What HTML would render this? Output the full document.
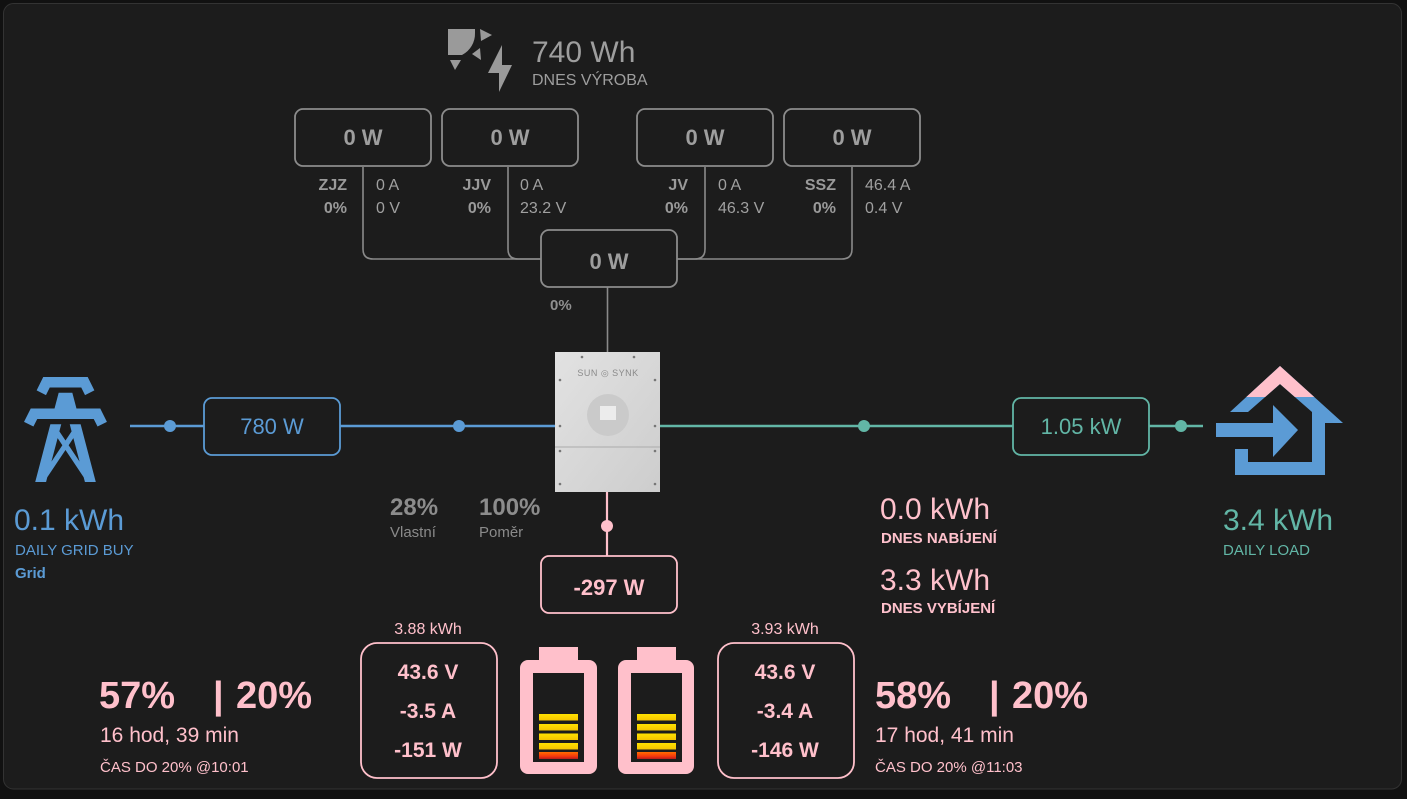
<!DOCTYPE html>
<html><head><meta charset="utf-8"><style>
html,body{margin:0;padding:0;background:#111;width:1407px;height:799px;overflow:hidden}
svg{display:block}
text{font-family:"Liberation Sans",Arial,sans-serif}
</style></head><body>
<svg width="1407" height="799" viewBox="0 0 1407 799" xmlns="http://www.w3.org/2000/svg">
<defs>
<linearGradient id="inv" x1="0" y1="0" x2="1" y2="1"><stop offset="0" stop-color="#e2e2e2"/><stop offset="1" stop-color="#cdcdcd"/></linearGradient>
<linearGradient id="red" x1="0" y1="0" x2="0" y2="1"><stop offset="0" stop-color="#ff6d00"/><stop offset="0.6" stop-color="#f4380c"/><stop offset="1" stop-color="#b71c1c"/></linearGradient>
<linearGradient id="yel" x1="0" y1="0" x2="0" y2="1"><stop offset="0" stop-color="#ffe100"/><stop offset="1" stop-color="#f5c400"/></linearGradient>
<clipPath id="topclip"><rect x="1200" y="355" width="160" height="42"/></clipPath>
</defs>
<rect x="0" y="0" width="1407" height="799" fill="#111"/>
<rect x="3.5" y="3.5" width="1398" height="785.5" rx="10" fill="#1c1c1c" stroke="#333" stroke-width="1"/>

<!-- Solar header icon -->
<g fill="#9a9a9a">
<path d="M448,29 H475 V33 A24 24 0 0 1 462,55 H448 Z"/>
<polygon points="480,29 492,35 481,41"/>
<polygon points="472,54 480,48 481,60"/>
<polygon points="450,60 461,60 455,70"/>
<polygon points="502,45 488,73 499,73 499,92 512,65 502,65"/>
</g>
<text x="532" y="62" font-size="30" fill="#9e9e9e">740 Wh</text>
<text x="532" y="85" font-size="16" fill="#9e9e9e">DNES VÝROBA</text>

<!-- PV connectors -->
<g fill="none" stroke="#8a8a8a" stroke-width="1.6">
<path d="M363,167 V249 Q363,259 373,259 H541"/>
<path d="M508,167 V249 Q508,259 518,259 H541"/>
<path d="M705,167 V249 Q705,259 695,259 H677"/>
<path d="M852,167 V249 Q852,259 842,259 H677"/>
<path d="M607.5,287 V352"/>
</g>
<!-- PV boxes -->
<g fill="#1c1c1c" stroke="#8c8c8c" stroke-width="1.8">
<rect x="295" y="109" width="136" height="57" rx="8"/>
<rect x="442" y="109" width="136" height="57" rx="8"/>
<rect x="637" y="109" width="136" height="57" rx="8"/>
<rect x="784" y="109" width="136" height="57" rx="8"/>
<rect x="541" y="230" width="136" height="57" rx="8"/>
</g>
<g font-size="22" font-weight="bold" fill="#9e9e9e" text-anchor="middle">
<text x="363" y="145">0 W</text>
<text x="510" y="145">0 W</text>
<text x="705" y="145">0 W</text>
<text x="852" y="145">0 W</text>
<text x="609" y="269">0 W</text>
</g>
<g font-size="16" font-weight="bold" fill="#9a9a9a" text-anchor="end">
<text x="347" y="190">ZJZ</text><text x="347" y="213">0%</text>
<text x="491" y="190">JJV</text><text x="491" y="213">0%</text>
<text x="688" y="190">JV</text><text x="688" y="213">0%</text>
<text x="836" y="190">SSZ</text><text x="836" y="213">0%</text>
</g>
<g font-size="16" fill="#a0a0a0">
<text x="376" y="190">0 A</text><text x="376" y="213">0 V</text>
<text x="520" y="190">0 A</text><text x="520" y="213">23.2 V</text>
<text x="718" y="190">0 A</text><text x="718" y="213">46.3 V</text>
<text x="865" y="190">46.4 A</text><text x="865" y="213">0.4 V</text>
</g>
<text x="550" y="310" font-size="15" font-weight="bold" fill="#8f8f8f">0%</text>

<!-- Grid -->
<line x1="130" y1="426" x2="556" y2="426" stroke="#5b9bd5" stroke-width="2.5"/>
<circle cx="170" cy="426" r="6" fill="#5b9bd5"/>
<circle cx="459" cy="426" r="6" fill="#5b9bd5"/>
<rect x="204" y="398" width="136" height="57" rx="8" fill="#1c1c1c" stroke="#5b9bd5" stroke-width="1.8"/>
<text x="272" y="434" font-size="22" fill="#5b9bd5" text-anchor="middle">780 W</text>
<g transform="translate(2.5,366.5) scale(5.25)" fill="#5b9bd5">
<path d="M8.28,5.45L6.5,4.55L7.76,2H16.23L17.5,4.55L15.72,5.45L15,4H9L8.28,5.45M18.62,8H14.09L13.3,5H10.7L9.91,8H5.38L4.1,10.55L5.89,11.44L6.62,10H17.38L18.1,11.44L19.89,10.55L18.62,8M17.77,22H15.7L15.46,21.1L12,15.9L8.53,21.1L8.3,22H6.23L9.12,11H11.19L10.83,12.35L12,14.1L13.16,12.35L12.81,11H14.88L17.77,22M11.4,15L10.5,13.65L9.32,18.13L11.4,15M14.68,18.13L13.5,13.65L12.6,15L14.68,18.13Z"/>
</g>
<text x="14" y="530" font-size="30" fill="#5b9bd5">0.1 kWh</text>
<text x="15" y="555" font-size="15" fill="#5b9bd5">DAILY GRID BUY</text>
<text x="15" y="578" font-size="15" font-weight="bold" fill="#5b9bd5">Grid</text>

<!-- Self use -->
<text x="390" y="515" font-size="24" font-weight="bold" fill="#8c8c8c">28%</text>
<text x="390" y="537" font-size="15" fill="#8a8a8a">Vlastní</text>
<text x="479" y="515" font-size="24" font-weight="bold" fill="#8c8c8c">100%</text>
<text x="479" y="537" font-size="15" fill="#8a8a8a">Poměr</text>

<!-- Load -->
<line x1="658" y1="426" x2="1203" y2="426" stroke="#62b6a6" stroke-width="2.5"/>
<circle cx="864" cy="426" r="6" fill="#62b6a6"/>
<circle cx="1181" cy="426" r="6" fill="#62b6a6"/>
<rect x="1013" y="398" width="136" height="57" rx="8" fill="#1c1c1c" stroke="#62b6a6" stroke-width="1.8"/>
<text x="1081" y="434" font-size="22" fill="#62b6a6" text-anchor="middle">1.05 kW</text>
<g fill="#5b9bd5">
<polygon points="1230,412 1280,366 1343,423 1325,423 1325,475 1235,475 1235,449 1248,449 1248,462 1312,462 1312,412 1280,384 1248,412"/>
<polygon points="1216,423 1273,423 1273,405 1298,430 1273,457 1273,437 1216,437"/>
</g>
<g fill="#ffc0cb" clip-path="url(#topclip)">
<polygon points="1230,412 1280,366 1343,423 1325,423 1325,475 1235,475 1235,449 1248,449 1248,462 1312,462 1312,412 1280,384 1248,412"/>
</g>
<text x="1223" y="530" font-size="30" fill="#62b6a6">3.4 kWh</text>
<text x="1223" y="555" font-size="15" fill="#62b6a6">DAILY LOAD</text>

<!-- Battery daily -->
<text x="880" y="519" font-size="30" fill="#ffc1cc">0.0 kWh</text>
<text x="881" y="543" font-size="15" font-weight="bold" fill="#ffc1cc">DNES NABÍJENÍ</text>
<text x="880" y="590" font-size="30" fill="#ffc1cc">3.3 kWh</text>
<text x="881" y="613" font-size="15" font-weight="bold" fill="#ffc1cc">DNES VYBÍJENÍ</text>

<!-- Inverter -->
<rect x="555" y="352" width="105" height="140" fill="url(#inv)"/>
<line x1="555" y1="447" x2="660" y2="447" stroke="#b4b4b4" stroke-width="1.2"/>
<text x="608" y="376" font-size="9" fill="#8a8a8a" text-anchor="middle" letter-spacing="0.5">SUN ◎ SYNK</text>
<circle cx="608" cy="415" r="21" fill="#cacaca"/>
<rect x="600" y="406" width="16" height="14" fill="#ececec"/>
<g fill="#777">
<circle cx="582" cy="357" r="1.3"/><circle cx="634" cy="357" r="1.3"/>
<circle cx="560" cy="380" r="1.3"/><circle cx="655" cy="380" r="1.3"/>
<circle cx="560" cy="426" r="1.3"/><circle cx="655" cy="426" r="1.3"/>
<circle cx="560" cy="451" r="1.3"/><circle cx="655" cy="451" r="1.3"/>
<circle cx="560" cy="484" r="1.3"/><circle cx="655" cy="484" r="1.3"/>
</g>

<!-- Battery connector -->
<line x1="607" y1="492" x2="607" y2="556" stroke="#ffc0cb" stroke-width="2.2"/>
<circle cx="607" cy="526" r="6" fill="#ffc0cb"/>
<rect x="541" y="556" width="136" height="57" rx="8" fill="#1c1c1c" stroke="#ffc0cb" stroke-width="1.8"/>
<text x="609" y="595" font-size="22" font-weight="bold" fill="#ffc0cb" text-anchor="middle">-297 W</text>

<!-- Bottom left -->
<text x="99" y="708" font-size="38" font-weight="bold" fill="#ffc0cb">57%</text>
<text x="213" y="708" font-size="38" font-weight="bold" fill="#ffc0cb">|</text>
<text x="236" y="708" font-size="38" font-weight="bold" fill="#ffc0cb">20%</text>
<text x="100" y="742" font-size="21" fill="#ffc0cb">16 hod, 39 min</text>
<text x="100" y="772" font-size="15" fill="#ffc0cb">ČAS DO 20% @10:01</text>

<text x="428" y="634" font-size="16" fill="#ffc0cb" text-anchor="middle">3.88 kWh</text>
<rect x="361" y="643" width="136" height="135" rx="16" fill="#1c1c1c" stroke="#ffc0cb" stroke-width="1.8"/>
<g font-size="21" font-weight="bold" fill="#ffc0cb" text-anchor="middle">
<text x="428" y="679">43.6 V</text>
<text x="428" y="718">-3.5 A</text>
<text x="428" y="757">-151 W</text>
</g>

<!-- Battery icons -->
<g>
<rect x="539" y="647" width="39" height="15" fill="#ffc0cb"/>
<rect x="520" y="660" width="77" height="114" rx="8" fill="#ffc0cb"/>
<rect x="533" y="673" width="51" height="89" fill="#1c1c1c"/>
<rect x="539" y="714" width="39" height="6.5" fill="url(#yel)"/>
<rect x="539" y="724" width="39" height="6.5" fill="url(#yel)"/>
<rect x="539" y="733.5" width="39" height="6.5" fill="url(#yel)"/>
<rect x="539" y="743" width="39" height="6.5" fill="url(#yel)"/>
<rect x="539" y="752" width="39" height="7" fill="url(#red)"/>
</g>
<g>
<rect x="637" y="647" width="39" height="15" fill="#ffc0cb"/>
<rect x="618" y="660" width="76" height="114" rx="8" fill="#ffc0cb"/>
<rect x="631" y="673" width="51" height="89" fill="#1c1c1c"/>
<rect x="637" y="714" width="39" height="6.5" fill="url(#yel)"/>
<rect x="637" y="724" width="39" height="6.5" fill="url(#yel)"/>
<rect x="637" y="733.5" width="39" height="6.5" fill="url(#yel)"/>
<rect x="637" y="743" width="39" height="6.5" fill="url(#yel)"/>
<rect x="637" y="752" width="39" height="7" fill="url(#red)"/>
</g>

<!-- Bottom right -->
<text x="785" y="634" font-size="16" fill="#ffc0cb" text-anchor="middle">3.93 kWh</text>
<rect x="718" y="643" width="136" height="135" rx="16" fill="#1c1c1c" stroke="#ffc0cb" stroke-width="1.8"/>
<g font-size="21" font-weight="bold" fill="#ffc0cb" text-anchor="middle">
<text x="785" y="679">43.6 V</text>
<text x="785" y="718">-3.4 A</text>
<text x="785" y="757">-146 W</text>
</g>
<text x="875" y="708" font-size="38" font-weight="bold" fill="#ffc0cb">58%</text>
<text x="989" y="708" font-size="38" font-weight="bold" fill="#ffc0cb">|</text>
<text x="1012" y="708" font-size="38" font-weight="bold" fill="#ffc0cb">20%</text>
<text x="875" y="742" font-size="21" fill="#ffc0cb">17 hod, 41 min</text>
<text x="875" y="772" font-size="15" fill="#ffc0cb">ČAS DO 20% @11:03</text>
</svg>
</body></html>
